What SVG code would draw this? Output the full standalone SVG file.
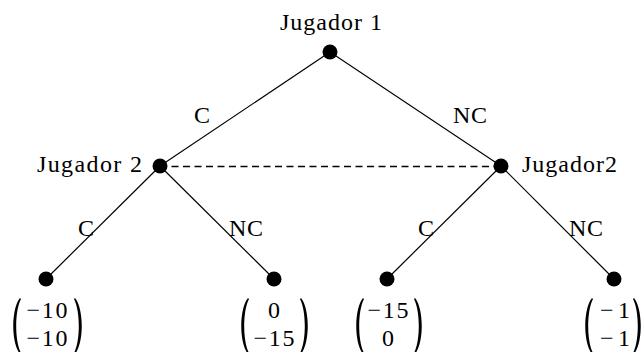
<svg xmlns="http://www.w3.org/2000/svg" width="644" height="352" viewBox="0 0 644 352">
<style>
text{font-family:"Liberation Serif","DejaVu Serif",serif;font-size:24px;fill:#000}
.m{text-anchor:middle}
.e{stroke:#000;stroke-width:1.2;fill:none}
.d{stroke:#000;stroke-width:1.3;stroke-dasharray:7,4.5;fill:none}
.n{fill:#000}
.p{fill:#000;stroke:none}
</style>
<defs>
<path id="lp" d="M9,0 C0,11 0,45 9,56 L10,55 C3.6,43 3.6,13 10,1 Z"/>
<path id="rp" d="M1,0 C10,11 10,45 1,56 L0,55 C6.4,43 6.4,13 0,1 Z"/>
</defs>
<g id="edges">
<line class="e" x1="330" y1="52" x2="160" y2="166"/>
<line class="e" x1="330" y1="52" x2="501" y2="166"/>
<line class="e" x1="160" y1="166" x2="46" y2="279"/>
<line class="e" x1="160" y1="166" x2="274" y2="279"/>
<line class="e" x1="501" y1="166" x2="387" y2="279"/>
<line class="e" x1="501" y1="166" x2="614" y2="279"/>
<line class="d" x1="160" y1="166.5" x2="501" y2="166.5"/>
<text class="m" x="202" y="123">C</text>
<text class="m" x="470" y="123" textLength="34">NC</text>
<text class="m" x="86" y="236">C</text>
<text class="m" x="246" y="236" textLength="34">NC</text>
<text class="m" x="426" y="236">C</text>
<text class="m" x="586" y="236" textLength="34">NC</text>
</g>
<g id="j1">
<circle class="n" cx="330" cy="52" r="7.5"/>
<text class="m" x="331" y="30" textLength="102">Jugador 1</text>
</g>
<g id="j2">
<circle class="n" cx="160" cy="166" r="7.5"/>
<text x="37" y="172" textLength="105">Jugador 2</text>
</g>
<g id="j2b">
<circle class="n" cx="501" cy="166" r="7.5"/>
<text x="522" y="172" textLength="95">Jugador2</text>
</g>
<g id="leaf1">
<circle class="n" cx="46" cy="279" r="7.5"/>
<use href="#lp" class="p" x="11" y="298"/>
<use href="#rp" class="p" x="74" y="298"/>
<text class="m" x="47" y="318" textLength="41">−10</text>
<text class="m" x="47" y="346" textLength="41">−10</text>
</g>
<g id="leaf2">
<circle class="n" cx="274" cy="279" r="7.5"/>
<use href="#lp" class="p" x="239" y="298"/>
<use href="#rp" class="p" x="300" y="298"/>
<text class="m" x="274" y="318">0</text>
<text class="m" x="274" y="346" textLength="41">−15</text>
</g>
<g id="leaf3">
<circle class="n" cx="387" cy="279" r="7.5"/>
<use href="#lp" class="p" x="354" y="298"/>
<use href="#rp" class="p" x="414" y="298"/>
<text class="m" x="388" y="318" textLength="41">−15</text>
<text class="m" x="388" y="346">0</text>
</g>
<g id="leaf4">
<circle class="n" cx="614" cy="279" r="7.5"/>
<use href="#lp" class="p" x="583" y="298"/>
<use href="#rp" class="p" x="633" y="298"/>
<text class="m" x="615" y="318" textLength="30">−1</text>
<text class="m" x="615" y="346" textLength="30">−1</text>
</g>
</svg>
